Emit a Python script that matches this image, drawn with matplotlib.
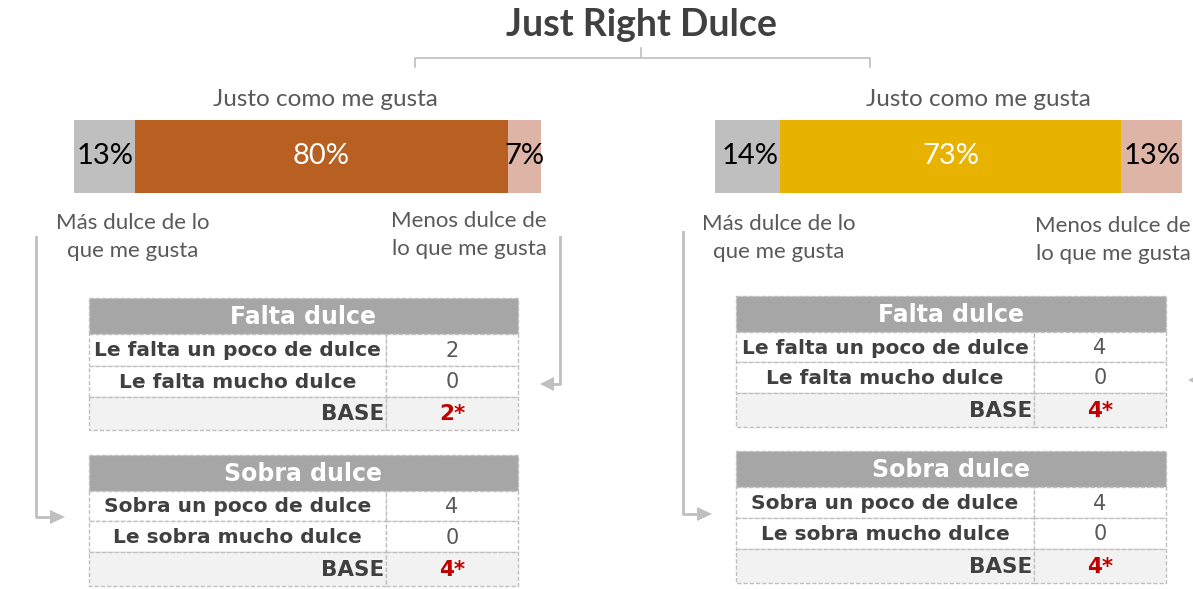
import matplotlib
matplotlib.use("Agg")
import matplotlib.pyplot as plt
from matplotlib.patches import Rectangle, Polygon

# ---------------- data ----------------
title = "Just Right Dulce"
jar_label = "Justo como me gusta"
more_label = "Más dulce de lo\nque me gusta"
less_label = "Menos dulce de\nlo que me gusta"
bar_categories = ["Más dulce", "Justo", "Menos dulce"]
left_bar_values = [13, 80, 7]
right_bar_values = [14, 73, 13]
left_main_color = "#B85F22"
right_main_color = "#E8B200"

falta_header = "Falta dulce"
falta_rows = ["Le falta un poco de dulce", "Le falta mucho dulce", "BASE"]
left_falta_values = ["2", "0", "2*"]
right_falta_values = ["4", "0", "4*"]
sobra_header = "Sobra dulce"
sobra_rows = ["Sobra un poco de dulce", "Le sobra mucho dulce", "BASE"]
left_sobra_values = ["4", "0", "4*"]
right_sobra_values = ["4", "0", "4*"]

# ---------------- figure ----------------
W, H = 1193, 589
fig = plt.figure(figsize=(W / 100, H / 100), dpi=100)
bg = fig.add_axes([0, 0, 1, 1])
bg.set_xlim(0, W)
bg.set_ylim(H, 0)
bg.axis("off")

GRAY_TXT = "#595959"
DARK_TXT = "#404040"
LINE = "#BFBFBF"
LABEL_FONT = "Lato"
TABLE_FONT = "DejaVu Sans"

# title & bracket
bg.text(641, 25, title, ha="center", va="center", fontsize=27, fontweight="bold",
        color=DARK_TXT, family=LABEL_FONT)
bg.plot([415, 415, 870, 870], [67, 58, 58, 67], color=LINE, lw=1.2)
bg.plot([641, 641], [58, 48], color=LINE, lw=1.2)


def stacked_bar(x0, x1, y0, y1, values, main_color):
    ax = fig.add_axes([x0 / W, 1 - y1 / H, (x1 - x0) / W, (y1 - y0) / H])
    colors = ["#BFBFBF", main_color, "#DEB4A6"]
    txt_colors = ["black", "white", "black"]
    left = 0
    for v, c, tc in zip(values, colors, txt_colors):
        ax.barh(0, v, left=left, color=c, height=1.0)
        if left == 0:
            ax.text(left + v - 0.3, 0, f"{v}%", ha="right", va="center",
                    color=tc, fontsize=21, family=LABEL_FONT)
        else:
            ax.text(left + v / 2, 0, f"{v}%", ha="center", va="center",
                    color=tc, fontsize=21, family=LABEL_FONT)
        left += v
    ax.set_xlim(0, sum(values))
    ax.set_ylim(-0.5, 0.5)
    ax.axis("off")


stacked_bar(74, 541, 120, 193, left_bar_values, left_main_color)
stacked_bar(715, 1182, 120, 193, right_bar_values, right_main_color)

for cx, cy in [(325, 99), (978, 99)]:
    bg.text(cx, cy, jar_label, ha="center", va="center", fontsize=17.5,
            color=GRAY_TXT, family=LABEL_FONT)

for cx, cy, t in [(133, 237, more_label), (469, 235, less_label),
                  (779, 238, more_label), (1113, 240, less_label)]:
    bg.text(cx, cy, t, ha="center", va="center", fontsize=16, color=GRAY_TXT,
            family=LABEL_FONT, linespacing=1.5)


def arrow_right(x, y):
    bg.add_patch(Polygon([[x, y - 7], [x + 15, y], [x, y + 7]], closed=True,
                         color=LINE, lw=0))


def arrow_left(x, y):
    bg.add_patch(Polygon([[x, y - 7], [x - 14, y], [x, y + 7]], closed=True,
                         color=LINE, lw=0))


# connector arrows
bg.plot([36, 36, 51], [237, 517, 517], color=LINE, lw=2)
arrow_right(50, 517)
bg.plot([560, 560, 553], [237, 384, 384], color=LINE, lw=2)
arrow_left(554, 384)
bg.plot([683, 683, 698], [232, 514, 514], color=LINE, lw=2)
arrow_right(697, 514)
arrow_left(1202, 380)


def table(x0, xs, x1, ys, header, rows, values):
    # header
    bg.add_patch(Rectangle((x0, ys[0]), x1 - x0, ys[1] - ys[0], facecolor="#A6A6A6",
                           edgecolor=LINE, lw=1, ls=(0, (3, 1.5))))
    bg.text((x0 + x1) / 2, (ys[0] + ys[1]) / 2 + 1, header, ha="center", va="center",
            color="white", fontsize=17, fontweight="bold", family=TABLE_FONT)
    for i, (r, v) in enumerate(zip(rows, values)):
        ya, yb = ys[i + 1], ys[i + 2]
        is_base = (i == len(rows) - 1)
        fc = "#F2F2F2" if is_base else "white"
        bg.add_patch(Rectangle((x0, ya), xs - x0, yb - ya, facecolor=fc,
                               edgecolor=LINE, lw=1, ls=(0, (3, 1.5))))
        bg.add_patch(Rectangle((xs, ya), x1 - xs, yb - ya, facecolor=fc,
                               edgecolor=LINE, lw=1, ls=(0, (3, 1.5))))
        ym = (ya + yb) / 2 + 1
        if is_base:
            bg.text(xs - 2, ym, r, ha="right", va="center", color=DARK_TXT,
                    fontsize=15.5, fontweight="bold", family=TABLE_FONT)
            bg.text((xs + x1) / 2, ym, v, ha="center", va="center", color="#C00000",
                    fontsize=15.5, fontweight="bold", family=TABLE_FONT)
        else:
            bg.text((x0 + xs) / 2, ym, r, ha="center", va="center", color=DARK_TXT,
                    fontsize=14.5, fontweight="bold", family=TABLE_FONT)
            bg.text((xs + x1) / 2, ym, v, ha="center", va="center", color=GRAY_TXT,
                    fontsize=15, family=TABLE_FONT)


table(89, 386, 518, [298, 334, 366, 397, 430], falta_header, falta_rows, left_falta_values)
table(89, 386, 518, [455, 491, 521, 552, 586], sobra_header, sobra_rows, left_sobra_values)
table(736, 1034, 1166, [296, 332, 362, 393, 427], falta_header, falta_rows, right_falta_values)
table(736, 1034, 1166, [451, 487, 518, 549, 583], sobra_header, sobra_rows, right_sobra_values)

fig.savefig("out.png", dpi=100)
